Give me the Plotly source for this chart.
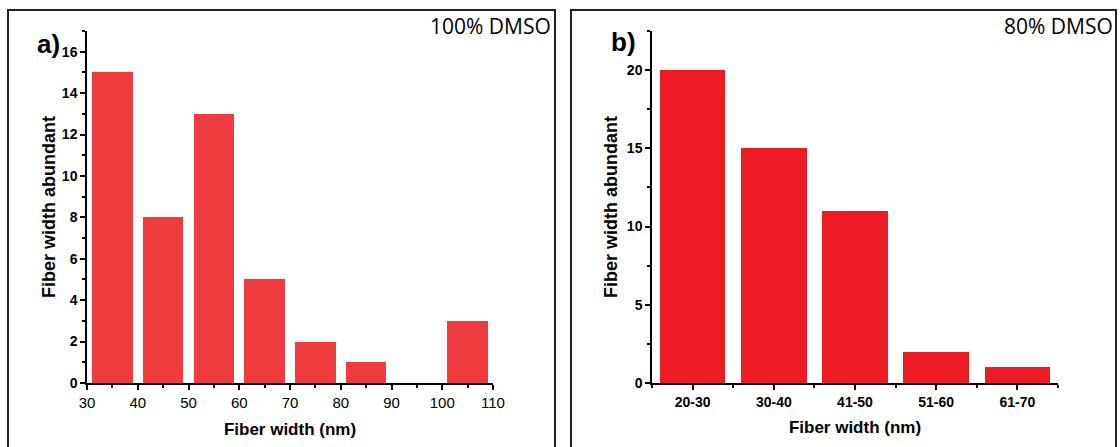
import plotly.graph_objects as go

# ---- data ----
a_widths = [35, 45, 55, 65, 75, 85, 95, 105]
a_counts = [15, 8, 13, 5, 2, 1, 0, 3]
b_categories = ["20-30", "30-40", "41-50", "51-60", "61-70"]
b_counts = [20, 15, 11, 2, 1]

W, H = 1120, 447
def px(x):
    return x / W
def py(y):
    return (H - y) / H

fig = go.Figure()
fig.add_trace(go.Bar(x=a_widths, y=a_counts, width=8, marker=dict(color="#EE3B3E", line=dict(width=0)),
                     xaxis="x", yaxis="y", showlegend=False))
b_idx = list(range(len(b_categories)))
fig.add_trace(go.Bar(x=b_idx, y=b_counts, width=0.81, marker=dict(color="#ED1C24", line=dict(width=0)),
                     xaxis="x2", yaxis="y2", showlegend=False))

FONT = "Liberation Sans, Arial, sans-serif"
common_axis = dict(showline=True, linecolor="black", linewidth=1.5, ticks="outside", ticklen=5,
                   tickwidth=1.5, tickcolor="black", showgrid=False, zeroline=False, automargin=False)

fig.update_layout(
    width=W, height=H, margin=dict(l=0, r=0, t=0, b=0),
    paper_bgcolor="white", plot_bgcolor="white", bargap=0,
    font=dict(family=FONT, color="black"),
    xaxis=dict(**common_axis, domain=[px(87), px(493)], range=[30, 110], dtick=10, tick0=30,
               minor=dict(ticks="outside", ticklen=3, dtick=5, tick0=30, tickcolor="black", tickwidth=1.5),
               tickfont=dict(size=15, family=FONT),
               title=dict(text="Fiber width (nm)", font=dict(size=17, family=FONT, weight="bold"), standoff=13),
               anchor="y"),
    yaxis=dict(**common_axis, domain=[py(383), py(31)], range=[0, 17], dtick=2, tick0=0,
               minor=dict(ticks="outside", ticklen=3, dtick=1, tick0=0, tickcolor="black", tickwidth=1.5),
               tickfont=dict(size=14, family=FONT, weight="bold"),
               title=dict(text="Fiber width abundant", font=dict(size=18, family=FONT, weight="bold"), standoff=2),
               anchor="x"),
    xaxis2=dict(**common_axis, domain=[px(652), px(1058)], range=[-0.5, 4.5],
                tickvals=b_idx, ticktext=b_categories,
                minor=dict(ticks="outside", ticklen=3, dtick=1, tick0=0.5, tickcolor="black", tickwidth=1.5),
                tickfont=dict(size=14, family=FONT, weight="bold"),
                title=dict(text="Fiber width (nm)", font=dict(size=17, family=FONT, weight="bold"), standoff=13),
                anchor="y2"),
    yaxis2=dict(**common_axis, domain=[py(383), py(31)], range=[0, 22.5], dtick=5, tick0=0,
                minor=dict(ticks="outside", ticklen=3, dtick=2.5, tick0=0, tickcolor="black", tickwidth=1.5),
                tickfont=dict(size=14, family=FONT, weight="bold"),
                title=dict(text="Fiber width abundant", font=dict(size=18, family=FONT, weight="bold"), standoff=5),
                anchor="x2"),
)

# panel frames
for x0, x1 in [(8, 555), (571, 1116)]:
    fig.add_shape(type="rect", xref="paper", yref="paper", x0=px(x0), x1=px(x1), y0=-0.05, y1=py(10),
                  line=dict(color="#222222", width=2), fillcolor="rgba(0,0,0,0)")

# panel labels
fig.add_annotation(text="a)", xref="paper", yref="paper", x=px(48), y=py(44), showarrow=False,
                   font=dict(size=26, family=FONT, weight="bold"), xanchor="center", yanchor="middle")
fig.add_annotation(text="b)", xref="paper", yref="paper", x=px(623), y=py(42), showarrow=False,
                   font=dict(size=26, family=FONT, weight="bold"), xanchor="center", yanchor="middle")
fig.add_annotation(text="100% DMSO", xref="paper", yref="paper", x=px(553), y=py(26), showarrow=False,
                   font=dict(size=21, family="Open Sans, sans-serif", weight=500), xanchor="right", yanchor="middle")
fig.add_annotation(text="80% DMSO", xref="paper", yref="paper", x=px(1115), y=py(26), showarrow=False,
                   font=dict(size=21, family="Open Sans, sans-serif", weight=500), xanchor="right", yanchor="middle")

fig.write_html("out.html", config={"displayModeBar": False},
               post_script="document.body.style.margin='0';document.body.style.overflow='hidden';")
